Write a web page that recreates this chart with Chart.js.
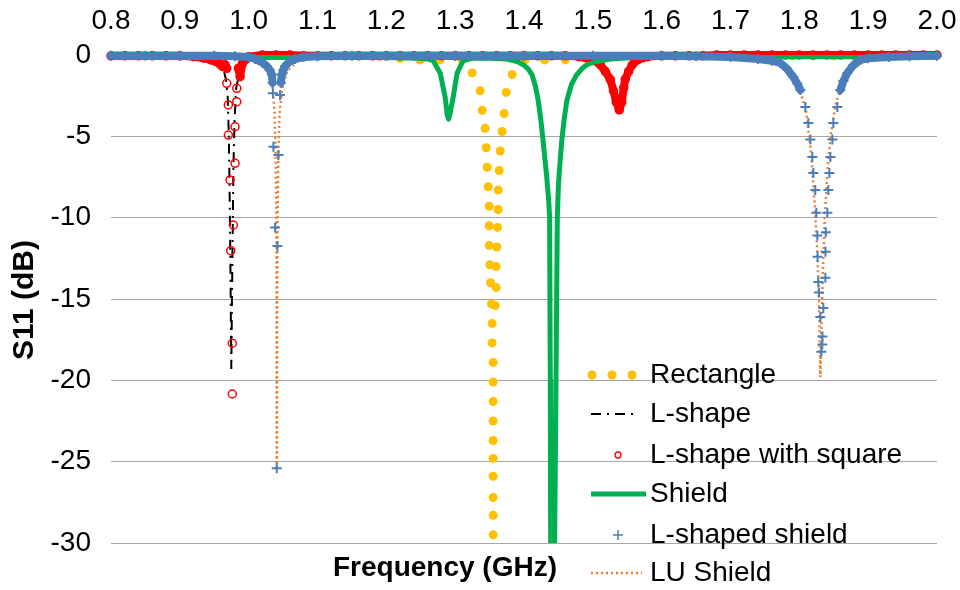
<!DOCTYPE html>
<html>
<head>
<meta charset="utf-8">
<title>S11 vs Frequency</title>
<script src="https://cdn.jsdelivr.net/npm/chart.js@4.4.1/dist/chart.umd.min.js"></script>
<style>
  html, body { margin: 0; padding: 0; background: #fff; }
  #wrap { width: 960px; height: 590px; position: relative; }
</style>
</head>
<body>
<div id="wrap"><canvas id="s11Chart"></canvas></div>
<script>
// Rectangle (GHz, dB)
const rectFreq = [0.80, 0.83, 0.86, 0.89, 0.92, 0.95, 0.98, 1.01, 1.04, 1.07, 1.10, 1.13, 1.16, 1.19, 1.22, 1.249, 1.278, 1.310,
  1.3247, 1.3363, 1.3392, 1.3436, 1.3450, 1.3465, 1.3480, 1.3494, 1.3494, 1.3494, 1.3504, 1.3514, 1.3528, 1.3537, 1.3537,
  1.3552, 1.3552, 1.3552, 1.3552, 1.3552, 1.3552, 1.3552, 1.3552, 1.3552, 1.3552,
  1.3581, 1.3596, 1.3596, 1.3606, 1.3615, 1.3625, 1.3625, 1.3640, 1.3654, 1.3683, 1.3712, 1.3741, 1.3828,
  1.4017, 1.430, 1.460, 1.49, 1.52, 1.55, 1.58, 1.61, 1.64, 1.67, 1.70, 1.73, 1.76, 1.79, 1.82, 1.85, 1.88, 1.91, 1.94, 1.97, 2.00];
const rectS11 = [-0.05, -0.05, -0.05, -0.05, -0.05, -0.05, -0.05, -0.05, -0.05, -0.05, -0.05, -0.05, -0.05, -0.1, -0.2, -0.3, -0.3, -0.3,
  -1.1, -2.2, -3.4, -4.5, -5.7, -6.9, -8.1, -9.3, -10.5, -11.7, -12.9, -14.0, -15.3, -16.5, -17.7,
  -18.9, -20.1, -21.3, -22.5, -23.7, -24.8, -25.9, -27.2, -28.3, -29.5,
  -15.4, -14.3, -13.0, -11.8, -10.6, -9.5, -8.3, -7.1, -5.9, -4.7, -3.6, -2.3, -1.2,
  -0.3, -0.3, -0.3, -0.2, -0.1, -0.05, -0.05, -0.05, -0.05, -0.05, -0.05, -0.05, -0.05, -0.05, -0.05, -0.05, -0.05, -0.05, -0.05, -0.05, -0.05];

// L-shape
const lFreq = [0.80, 0.90, 0.94, 0.955, 0.963, 0.967, 0.9695, 0.9712, 0.9725, 0.9735, 0.9742, 0.9748, 0.9755, 0.9765, 0.9778, 0.9795, 0.982, 0.987, 0.995, 1.01, 1.20, 1.60, 2.00];
const lS11 = [-0.1, -0.1, -0.2, -0.4, -0.8, -1.5, -2.5, -5, -9, -13, -16.5, -19.3, -16, -12, -7, -4, -2, -1, -0.5, -0.2, -0.1, -0.1, -0.1];

// L-shape with square
const sqFreq = [0.80, 0.82, 0.84, 0.86, 0.88, 0.90, 0.92, 0.935, 0.945, 0.952, 0.958, 0.962, 0.9658,
  0.9682, 0.9682, 0.9705, 0.9705, 0.9730, 0.9740, 0.9763, 0.9763, 0.9778, 0.9802, 0.9802, 0.9827, 0.9827, 0.9850, 0.9875,
  0.991, 0.996, 1.00, 1.02, 1.04, 1.06, 1.08, 1.10, 1.12, 1.14, 1.16, 1.18, 1.20, 1.22, 1.24, 1.26, 1.28, 1.30, 1.32,
  1.34, 1.36, 1.38, 1.40, 1.42, 1.44, 1.46, 1.48, 1.50, 1.5108, 1.518, 1.5253, 1.530, 1.534, 1.5384, 1.542, 1.545,
  1.547, 1.552, 1.5573, 1.565, 1.58, 1.60, 1.62, 1.64, 1.66, 1.68, 1.70, 1.72, 1.74, 1.76, 1.78, 1.80, 1.82, 1.84,
  1.86, 1.88, 1.90, 1.92, 1.94, 1.96, 1.98, 2.00];
const sqS11 = [-0.05, -0.05, -0.05, -0.05, -0.05, -0.05, -0.1, -0.2, -0.3, -0.4, -0.55, -0.7, -0.6,
  -0.82, -1.74, -3.07, -4.92, -7.68, -12.03, -17.72, -20.84, -10.45, -6.66, -4.41, -2.87, -2.05, -0.82, -1.33,
  -0.5, -0.25, -0.1, 0, 0, 0, -0.05, -0.05, -0.05, -0.05, -0.05, -0.05, -0.05, -0.05, -0.05, -0.05, -0.05, -0.05, -0.05,
  -0.05, -0.05, -0.05, -0.05, -0.05, -0.05, -0.05, -0.1, -0.3, -0.6, -1.0, -1.5, -2.2, -2.9, -3.38, -2.9, -2.0,
  -1.5, -1.0, -0.6, -0.3, -0.1, -0.05, -0.05, -0.05, -0.05, 0, 0, 0, 0, 0, 0, 0, 0, 0,
  0, 0, 0, 0, 0, 0, 0, 0];

// Shield
const shFreq = [0.80, 1.00, 1.20, 1.245, 1.26, 1.268, 1.2782, 1.2855, 1.2885, 1.2905, 1.2925, 1.2971, 1.3029, 1.3116,
  1.325, 1.35, 1.375, 1.39, 1.399, 1.4060, 1.4115, 1.4165, 1.4207, 1.4245, 1.4275, 1.4330, 1.4360, 1.4372, 1.4382,
  1.4387, 1.4400, 1.4416, 1.4432, 1.4445, 1.4465, 1.4484, 1.4500, 1.4525, 1.4550, 1.4585, 1.4623, 1.4690, 1.4768,
  1.4840, 1.4914, 1.5030, 1.5250, 1.5600, 1.6200, 1.7500, 2.0000];
const shS11 = [-0.15, -0.15, -0.15, -0.2, -0.25, -0.35, -1.1, -2.6, -3.7, -3.95, -3.6, -2.6, -1.1, -0.35,
  -0.2, -0.2, -0.25, -0.4, -0.6, -0.85, -1.2, -1.9, -2.8, -4.0, -5.2, -7.5, -9.0, -10, -20,
  -30, -40, -48, -40, -30, -20, -10, -8.0, -6.5, -5.2, -3.9, -2.8, -1.8, -1.2,
  -0.85, -0.6, -0.43, -0.25, -0.15, -0.12, -0.1, -0.1];

// L-shaped shield
const lsFreq = [0.80, 0.85, 0.90, 0.95, 0.98, 1.000, 1.0093, 1.0195, 1.0267, 1.0305, 1.0336, 1.0348, 1.0352, 1.0359,
  1.0384, 1.0408, 1.0417, 1.0432, 1.0456, 1.0468, 1.0481, 1.0505, 1.0529, 1.0587, 1.0674, 1.08, 1.10, 1.15, 1.20,
  1.30, 1.40, 1.50, 1.60, 1.65, 1.70, 1.74, 1.76, 1.7724, 1.782, 1.7913, 1.797, 1.8015, 1.8087, 1.8131, 1.8160,
  1.8189, 1.8203, 1.8232, 1.8247, 1.8262, 1.8265, 1.8276, 1.8285, 1.8305, 1.8320, 1.8334, 1.8336, 1.8349, 1.8378,
  1.8380, 1.8384, 1.8407, 1.8422, 1.8436, 1.8451, 1.8480, 1.8494, 1.8552, 1.8596, 1.8640, 1.8698, 1.8780, 1.8880,
  1.90, 1.93, 1.96, 2.00];
const lsS11 = [-0.05, -0.05, -0.05, -0.05, -0.07, -0.12, -0.25, -0.45, -0.7, -0.9, -1.2, -1.7, -2.35, -5.64,
  -10.6, -25.4, -11.74, -6.15, -2.46, -1.7, -1.2, -0.9, -0.68, -0.43, -0.25, -0.12, -0.07, -0.05, -0.05,
  -0.05, -0.05, -0.05, -0.05, -0.07, -0.12, -0.25, -0.35, -0.49, -0.85, -1.35, -1.75, -2.15, -3.2, -4.18, -5.2,
  -6.27, -7.25, -8.3, -9.7, -11.1, -12.4, -13.95, -14.6, -16.1, -18.25, -17.8, -17.3, -15.55, -13.7,
  -12.1, -10.9, -9.7, -8.3, -7.25, -6.27, -5.2, -4.18, -3.2, -2.15, -1.6, -1.1, -0.65, -0.3,
  -0.2, -0.12, -0.07, -0.05];

// LU Shield
const luFreq = [0.80, 1.00, 1.015, 1.025, 1.031, 1.035, 1.0375, 1.0392, 1.0402, 1.0406, 1.0409, 1.0413, 1.0420, 1.0432,
  1.0450, 1.049, 1.056, 1.07, 1.10, 1.70, 1.76, 1.785, 1.800, 1.810, 1.817, 1.822, 1.826, 1.8285, 1.8305, 1.8325,
  1.8345, 1.837, 1.841, 1.846, 1.853, 1.862, 1.875, 1.895, 1.93, 2.00];
const luS11 = [-0.1, -0.15, -0.3, -0.6, -1.1, -2.0, -3.5, -6, -10, -15, -25.5, -15, -10, -6,
  -3.5, -2.0, -1.0, -0.4, -0.15, -0.15, -0.4, -1.0, -2.0, -3.5, -6, -9, -12, -15, -19.8, -16,
  -13, -10, -7, -4.8, -3, -1.8, -0.9, -0.4, -0.2, -0.1];

const seriesNames = ['Rectangle', 'L-shape', 'L-shape with square', 'Shield', 'L-shaped shield', 'LU Shield'];

const BLUE = '#4A7EBB';
const RED = '#FF0000';
const GREEN = '#00B050';
const GOLD = '#FFC000';
const ORANGE = '#ED7D31';
const NONE = 'rgba(0,0,0,0)';

const pts = (fs, vs) => fs.map((f, i) => ({ x: f, y: vs[i] }));

// near-zero stretches are drawn as a solid band, like the dense markers of the original
const blueBand = c => (c.p0.parsed.y > -2.2 && c.p1.parsed.y > -2.2) ? BLUE : NONE;
const redBand = c => {
  const lim = c.p0.parsed.x > 1.2 ? -4 : -1.4;
  return (c.p0.parsed.y > lim && c.p1.parsed.y > lim) ? RED : NONE;
};

const textFont = '"Liberation Sans", Arial, sans-serif';

const overlay = {
  id: 'overlay',
  afterDraw(chart) {
    const ctx = chart.ctx;
    ctx.save();
    ctx.fillStyle = '#000';
    ctx.textAlign = 'center';
    ctx.textBaseline = 'middle';
    ctx.font = 'bold 28px ' + textFont;
    ctx.fillText('Frequency (GHz)', 445, 568);
    ctx.save();
    ctx.translate(25, 300);
    ctx.rotate(-Math.PI / 2);
    ctx.font = 'bold 30px ' + textFont;
    ctx.fillText('S11 (dB)', 0, 0);
    ctx.restore();

    // legend
    const rows = [375, 414, 455, 494, 535, 573];
    ctx.font = '28px ' + textFont;
    ctx.textAlign = 'left';
    seriesNames.forEach((name, i) => {
      const y = rows[i];
      ctx.save();
      if (i === 0) {
        ctx.fillStyle = GOLD;
        [592, 612, 632].forEach(x => { ctx.beginPath(); ctx.arc(x, y, 4.5, 0, Math.PI * 2); ctx.fill(); });
      } else if (i === 1) {
        ctx.strokeStyle = '#000'; ctx.lineWidth = 2; ctx.setLineDash([10, 6, 2, 6]);
        ctx.beginPath(); ctx.moveTo(591, y); ctx.lineTo(635, y); ctx.stroke();
      } else if (i === 2) {
        ctx.strokeStyle = RED; ctx.lineWidth = 1.3;
        ctx.beginPath(); ctx.arc(618, y, 3, 0, Math.PI * 2); ctx.stroke();
      } else if (i === 3) {
        ctx.strokeStyle = GREEN; ctx.lineWidth = 5;
        ctx.beginPath(); ctx.moveTo(591, y); ctx.lineTo(646, y); ctx.stroke();
      } else if (i === 4) {
        ctx.strokeStyle = BLUE; ctx.lineWidth = 1.5;
        ctx.beginPath(); ctx.moveTo(613, y); ctx.lineTo(623, y); ctx.moveTo(618, y - 5); ctx.lineTo(618, y + 5); ctx.stroke();
      } else {
        ctx.strokeStyle = ORANGE; ctx.lineWidth = 2.5; ctx.setLineDash([2, 3]);
        ctx.beginPath(); ctx.moveTo(591, y); ctx.lineTo(642, y); ctx.stroke();
      }
      ctx.restore();
      ctx.fillStyle = '#000';
      ctx.fillText(name, 650, y);
    });
    ctx.restore();
  }
};

const ctx = document.getElementById('s11Chart').getContext('2d');

const s11Chart = new Chart(ctx, {
  type: 'scatter',
  data: {
    datasets: [
      {
        label: seriesNames[0], data: pts(rectFreq, rectS11), order: 6,
        showLine: false, pointStyle: 'circle', pointRadius: 4.5, pointBorderWidth: 0,
        pointBackgroundColor: GOLD, borderColor: GOLD
      },
      {
        label: seriesNames[1], data: pts(lFreq, lS11), order: 5,
        showLine: true, borderColor: '#000', borderWidth: 2, borderDash: [10, 6, 2, 6],
        pointRadius: 0
      },
      {
        label: seriesNames[2], data: pts(sqFreq, sqS11), order: 4, clip: 8,
        showLine: true, borderColor: RED, borderWidth: 8, borderCapStyle: 'round', borderJoinStyle: 'round',
        segment: { borderColor: redBand },
        pointStyle: 'circle', pointRadius: 4, pointBorderWidth: 1.5,
        pointBorderColor: RED, pointBackgroundColor: 'rgba(255,255,255,0)'
      },
      {
        label: seriesNames[3], data: pts(shFreq, shS11), order: 3,
        showLine: true, borderColor: GREEN, borderWidth: 5, borderJoinStyle: 'round',
        pointRadius: 0
      },
      {
        label: seriesNames[4], data: pts(lsFreq, lsS11), order: 1, clip: 8,
        showLine: true, borderColor: BLUE, borderWidth: 8, borderCapStyle: 'round', borderJoinStyle: 'round',
        segment: { borderColor: blueBand },
        pointStyle: 'cross', pointRadius: 5, pointBorderWidth: 2,
        pointBorderColor: BLUE, pointBackgroundColor: BLUE
      },
      {
        label: seriesNames[5], data: pts(luFreq, luS11), order: 2,
        showLine: true, borderColor: ORANGE, borderWidth: 2.5, borderDash: [2, 3],
        pointRadius: 0
      }
    ]
  },
  options: {
    responsive: true,
    maintainAspectRatio: false,
    animation: false,
    events: [],
    layout: { padding: { left: 0, top: 0, right: 23, bottom: 47 } },
    plugins: {
      legend: { display: false },
      tooltip: { enabled: false }
    },
    scales: {
      x: {
        type: 'linear',
        position: 'top',
        min: 0.8,
        max: 2.0,
        grid: { display: false, drawTicks: false },
        border: { display: false },
        ticks: {
          stepSize: 0.1,
          padding: 17,
          color: '#000',
          font: { family: textFont, size: 28 },
          callback: v => v.toFixed(1)
        },
        afterFit: axis => { axis.height = 55; axis.paddingLeft = 0; axis.paddingRight = 0; }
      },
      y: {
        type: 'linear',
        min: -30,
        max: 0,
        grid: { color: '#a6a6a6', lineWidth: 1, drawTicks: false },
        border: { display: false },
        ticks: {
          stepSize: 5,
          padding: 20,
          color: '#000',
          font: { family: textFont, size: 28 }
        },
        afterFit: axis => { axis.width = 111; axis.paddingTop = 0; axis.paddingBottom = 0; }
      }
    }
  },
  plugins: [overlay]
});
</script>
</body>
</html>
